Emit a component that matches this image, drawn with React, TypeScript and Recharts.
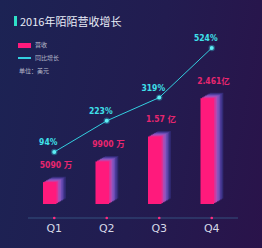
import React from 'react';
import { ComposedChart, Bar, Line, XAxis, YAxis, LabelList } from 'recharts';

const quarters = ['Q1', 'Q2', 'Q3', 'Q4'];
const revenue = [0.509, 0.99, 1.57, 2.461];
const revenueLabels = ['5090 万', '9900 万', '1.57 亿', '2.461亿'];
const growth = [94, 223, 319, 524];
const growthLabels = ['94%', '223%', '319%', '524%'];

const data = quarters.map((q, i) => ({
  q,
  revenue: revenue[i],
  revenueLabel: revenueLabels[i],
  growth: growth[i],
  growthLabel: growthLabels[i],
}));

const PINK = '#ff1a7c';
const TEAL = '#33cfe0';
const LAYERS = ['#332c78', '#4a3a96', '#6a4cb4', '#8c56be', '#b24cb4', '#dc3296'];

const Bar3D = (props: any) => {
  const { x, y, height } = props;
  if (height == null || height <= 0) return null;
  const fw = 13.5;
  const n = LAYERS.length;
  const els: any[] = [];
  for (let k = n; k >= 1; k--) {
    const dx = k * 1.55;
    const dy = k * 0.9;
    els.push(
      <rect key={k} x={x + dx} y={y - dy} width={fw} height={height} fill={LAYERS[n - k]} opacity={0.95} />
    );
  }
  els.push(<rect key="front" x={x} y={y} width={fw} height={height} fill={PINK} />);
  return <g>{els}</g>;
};

const BarLabel = (props: any) => {
  const { x, y, index } = props;
  return (
    <text x={x + 13} y={y - 14} textAnchor="middle" fill="#e8266f" fontSize={8.5} fontWeight="bold"
      fontFamily="'Liberation Sans Narrow', 'DejaVu Sans Condensed', 'Noto Sans CJK SC', sans-serif">
      {revenueLabels[index]}
    </text>
  );
};

const LineLabel = (props: any) => {
  const { x, y, index } = props;
  return (
    <text x={x - 6} y={y - 7} textAnchor="middle" fill="#3fe0ea" fontSize={8.5} fontWeight="bold"
      fontFamily="'Liberation Sans Narrow', 'DejaVu Sans Condensed', sans-serif">
      {growthLabels[index]}
    </text>
  );
};

const Dot = (props: any) => {
  const { cx, cy } = props;
  return (
    <g>
      <circle cx={cx} cy={cy} r={3.2} fill={TEAL} opacity={0.35} />
      <circle cx={cx} cy={cy} r={2} fill="#5ff0f5" />
    </g>
  );
};

const Tick = (props: any) => {
  const { x, y, payload } = props;
  return (
    <g>
      <circle cx={x} cy={y} r={1.3} fill="#ff2a80" />
      <text x={x} y={y + 14} textAnchor="middle" fill="#d6d8e6" fontSize={11}
        fontFamily="'DejaVu Sans', sans-serif">
        {payload.value}
      </text>
    </g>
  );
};

export default function App() {
  return (
    <div
      style={{
        position: 'absolute',
        left: 0,
        top: 0,
        width: 262,
        height: 248,
        background: 'linear-gradient(100deg, #1c2354 0%, #221c50 55%, #2a134a 100%)',
        overflow: 'hidden',
        fontFamily: "'Noto Sans CJK SC', sans-serif",
      }}
    >
      <div style={{ position: 'absolute', left: 14, top: 16, width: 3, height: 10, background: '#2fe0c8' }} />
      <div style={{ position: 'absolute', left: 20, top: 13, fontSize: 11, lineHeight: '16px', color: '#e8ecf6', whiteSpace: 'nowrap' }}>
        2016年陌陌营收增长
      </div>
      <div style={{ position: 'absolute', left: 18, top: 43, width: 13, height: 5, background: PINK }} />
      <div style={{ position: 'absolute', left: 35, top: 41, fontSize: 6, lineHeight: '8px', color: '#b8bccc', whiteSpace: 'nowrap' }}>
        营收
      </div>
      <div style={{ position: 'absolute', left: 18, top: 57, width: 13, height: 1.5, background: TEAL }} />
      <div style={{ position: 'absolute', left: 35, top: 54, fontSize: 6, lineHeight: '8px', color: '#b8bccc', whiteSpace: 'nowrap' }}>
        同比增长
      </div>
      <div style={{ position: 'absolute', left: 19, top: 67, fontSize: 6, lineHeight: '8px', color: '#b8bccc', whiteSpace: 'nowrap' }}>
        单位：美元
      </div>
      <div style={{ position: 'absolute', left: 0, top: 0 }}>
        <ComposedChart width={262} height={248} data={data} margin={{ top: 30, right: 24, bottom: 0, left: 28 }}>
          <XAxis
            dataKey="q"
            height={30}
            tickLine={false}
            tickSize={0}
            tickMargin={0}
            axisLine={{ stroke: '#34507e', strokeWidth: 1 }}
            tick={<Tick />}
            interval={0}
          />
          <YAxis yAxisId="r" hide type="number" domain={[-0.3256, 4.047]} />
          <YAxis yAxisId="g" hide type="number" domain={[-178.8, 598.4]} />
          <Bar yAxisId="r" dataKey="revenue" barSize={23} shape={<Bar3D />} isAnimationActive={false}>
            <LabelList dataKey="revenueLabel" content={<BarLabel />} />
          </Bar>
          <Line
            yAxisId="g"
            dataKey="growth"
            type="linear"
            stroke={TEAL}
            strokeWidth={1}
            dot={<Dot />}
            activeDot={false}
            isAnimationActive={false}
          >
            <LabelList dataKey="growthLabel" content={<LineLabel />} />
          </Line>
        </ComposedChart>
      </div>
    </div>
  );
}
